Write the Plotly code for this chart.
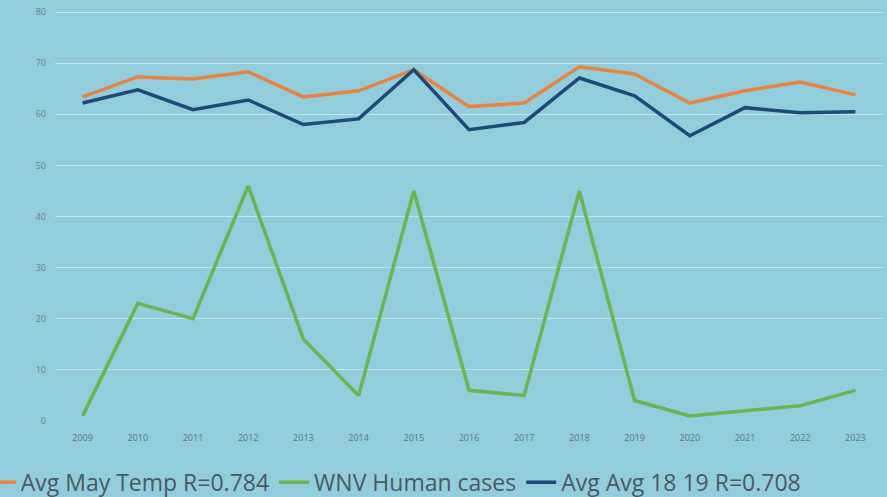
import plotly.graph_objects as go

years = [str(y) for y in range(2009, 2024)]
avg_may_temp = [63.4, 67.3, 66.9, 68.3, 63.4, 64.6, 68.7, 61.5, 62.2, 69.3, 67.9, 62.2, 64.6, 66.3, 63.8]
wnv_cases = [1, 23, 20, 46, 16, 5, 45, 6, 5, 45, 4, 1, 2, 3, 6]
avg_18_19 = [62.2, 64.8, 60.9, 62.8, 58.0, 59.1, 68.7, 57.0, 58.4, 67.1, 63.6, 55.8, 61.3, 60.3, 60.5]
y_ticks = [0, 10, 20, 30, 40, 50, 60, 70, 80]

bg = "#92CDDC"
fig = go.Figure()
fig.add_trace(go.Scatter(x=years, y=avg_may_temp, mode="lines", name="Avg May Temp R=0.784",
                         line=dict(color="#E8843F", width=3.5)))
fig.add_trace(go.Scatter(x=years, y=wnv_cases, mode="lines", name="WNV Human cases",
                         line=dict(color="#6DB34E", width=3.5)))
fig.add_trace(go.Scatter(x=years, y=avg_18_19, mode="lines", name="Avg Avg 18 19 R=0.708",
                         line=dict(color="#1F4A78", width=3.5)))

fig.update_layout(
    width=887, height=497,
    paper_bgcolor=bg, plot_bgcolor=bg,
    margin=dict(l=55, r=4, t=10, b=76, autoexpand=False),
    font=dict(family="Liberation Sans Narrow, Open Sans, sans-serif", color="#5E7480"),
    showlegend=True,
    legend=dict(orientation="h", x=-0.0897, xanchor="left", y=-0.149, yanchor="middle",
                font=dict(size=23, color="#4A5963"), bgcolor="rgba(0,0,0,0)",
                itemwidth=30, tracegroupgap=0),
    xaxis=dict(type="category", range=[-0.5, 14.5], showgrid=False, zeroline=False,
               showline=False, ticks="", tickfont=dict(size=9, color="#5E7480"),
               ticklabelstandoff=10),
    yaxis=dict(range=[0, 80.4], tickvals=y_ticks, showgrid=True, gridcolor="#C4E4EC",
               gridwidth=1.2, zeroline=False, showline=False, ticks="",
               tickfont=dict(size=9, color="#6A808A"), ticklabelstandoff=8),
)
fig.write_html("out.html", config={"displayModeBar": False},
               post_script="document.body.style.margin='0';document.body.style.background='%s';" % bg)
